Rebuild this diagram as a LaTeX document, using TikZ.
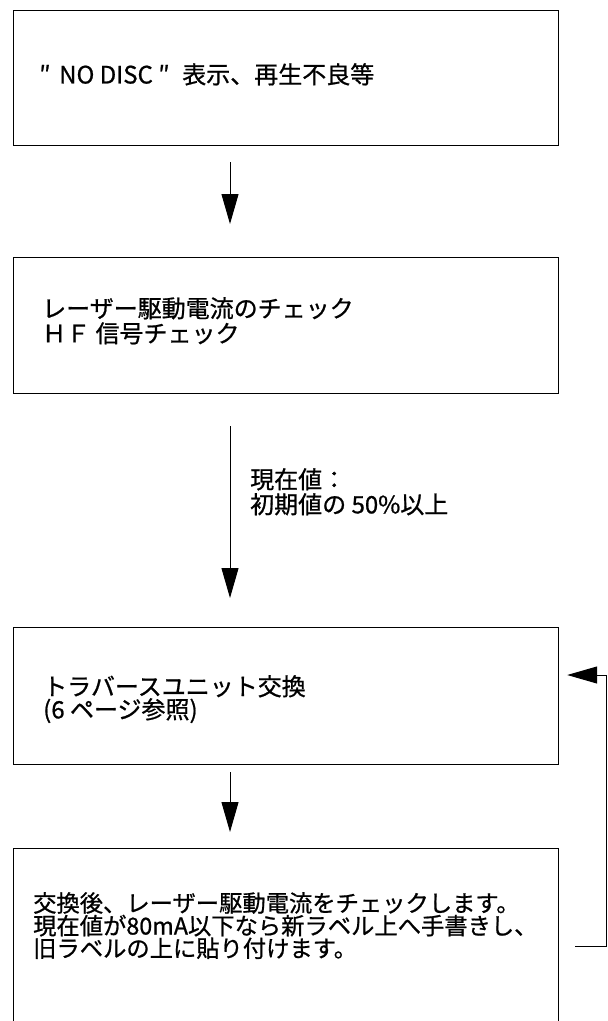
\documentclass[tikz,border=0pt]{standalone}
\usepackage{fontspec}
\setmainfont{Noto Sans CJK JP}[FakeBold=0.8]
\usetikzlibrary{calc}
\usetikzlibrary{arrows.meta}

\begin{document}
\begin{tikzpicture}[
x=1pt,y=-1pt,
StepBox/.style={draw=black,line width=1.2pt,minimum width=545pt,anchor=north west,inner sep=0pt},
StepText/.style={anchor=north west,inner sep=0pt,align=left,font={\fontsize{24}{25}\selectfont}},
FlowArrow/.style={-{Triangle[length=30pt, width=17pt]},line width=1pt}
]
\useasboundingbox (0,0) rectangle (608,1021);
\clip (0,0) rectangle (608,1021);

% the boxes, the last one runs off the page
\node[StepBox,minimum height=135pt] (box1) at (13,10) {};
\node[StepBox,minimum height=136pt] (box2) at (13,257) {};
\node[StepBox,minimum height=137pt] (box3) at (13,627) {};
\node[StepBox,minimum height=200pt] (box4) at (13,848) {};

% texts
\node[StepText] (txt1) at (35,63) {\makebox[1em][l]{\,″}NO DISC \makebox[1em][l]{″}表示、再生不良等};
\node[StepText] (txt2) at (42,297) {レーザー駆動電流のチェック\\ＨＦ 信号チェック};
\node[StepText,font={\fontsize{24}{23}\selectfont}] (txt3) at (43,675) {トラバースユニット交換\\(6 ページ参照)};
\node[StepText,font={\fontsize{23.3}{19.5}\selectfont}] (txt4) at (33,892) {交換後、レーザー駆動電流をチェックします。\\現在値が80mA以下なら新ラベル上へ手書きし、\\旧ラベルの上に貼り付けます。};
\node[StepText] (cond) at (250,468) {現在値：\\初期値の 50\%以上};

% arrows down the spine
\coordinate (spine) at (230,0);
\draw[FlowArrow] ($(box1.south -| spine)+(0,16)$) -- ($(box2.north -| spine)+(0,-33)$);
\draw[FlowArrow] ($(box2.south -| spine)+(0,32)$) -- ($(box3.north -| spine)+(0,-29)$);
\draw[FlowArrow] ($(box3.south -| spine)+(0,7)$) -- ($(box4.north -| spine)+(0,-16)$);

% back to the exchange step
\draw[FlowArrow] ($(box4.north east)+(16,98)$) -- ++(31.5,0) |- ($(box3.north east)+(8,48)$);

\end{tikzpicture}
\end{document}
